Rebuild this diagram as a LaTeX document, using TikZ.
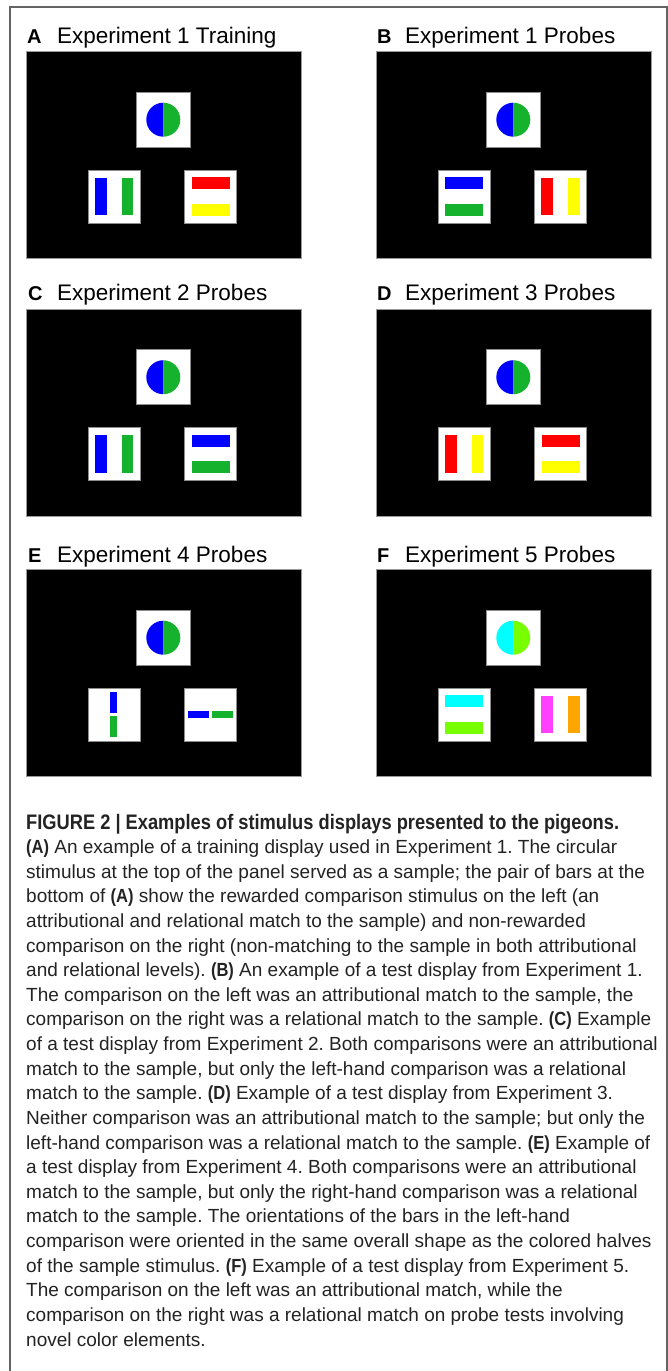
\documentclass[tikz,border=0pt]{standalone}
\usepackage{fontspec}
\setmainfont{Liberation Sans}[BoldFeatures={FakeStretch=0.87}]
\newfontfamily\titlefont{Liberation Sans}
\usetikzlibrary{calc}
\frenchspacing
\definecolor{pblue}{RGB}{0,0,255}
\definecolor{pgreen}{RGB}{20,178,45}
\definecolor{pred}{RGB}{255,0,0}
\definecolor{pyellow}{RGB}{255,255,0}
\definecolor{pcyan}{RGB}{0,255,255}
\definecolor{plime}{RGB}{119,255,0}
\definecolor{pmagenta}{RGB}{255,64,255}
\definecolor{porange}{RGB}{255,165,0}
\definecolor{framegray}{RGB}{100,100,100}
\definecolor{captext}{RGB}{35,35,35}
\newcommand\stimpanel[5]{% name, x, y, left colour, right colour of sample
  \node[panelbox, anchor=north west] (#1-p) at (#2,#3) {};
  \node[wbox, minimum width=54.5pt, minimum height=55pt] (#1-s) at ($(#1-p.north west)+(137.3,68.5)$) {};
  \node[wbox] (#1-l) at ($(#1-p.north west)+(88.3,145.5)$) {};
  \node[wbox] (#1-r) at ($(#1-p.north west)+(184.5,145.5)$) {};
  \coordinate (#1-c) at ($(#1-s)+(0,0.2)$);
  \begin{scope}
    \clip ($(#1-c)+(-18,-18)$) rectangle ($(#1-c)+(0,18)$);
    \fill[#4] (#1-c) circle[radius=17];
  \end{scope}
  \begin{scope}
    \clip ($(#1-c)+(0,-18)$) rectangle ($(#1-c)+(18,18)$);
    \fill[#5] (#1-c) circle[radius=17];
  \end{scope}
}
\begin{document}
\begin{tikzpicture}[x=1pt,y=-1pt,
  panelbox/.style={draw=gray!80, line width=0.6pt, fill=black, minimum width=275pt, minimum height=207pt, inner sep=0pt},
  wbox/.style={draw=gray!90, line width=0.9pt, fill=white, minimum width=52.5pt, minimum height=53pt, inner sep=0pt},
  vbar/.style={minimum width=11.5pt, minimum height=37.7pt, inner sep=0pt},
  hbar/.style={minimum width=38pt, minimum height=12pt, inner sep=0pt},
  svbar/.style={minimum width=7pt, minimum height=21.5pt, inner sep=0pt},
  shbar/.style={minimum width=21pt, minimum height=7pt, inner sep=0pt},
  lett/.style={font=\titlefont\bfseries\fontsize{20}{22}\selectfont, inner sep=0pt, anchor=base west},
  ttl/.style={font=\titlefont\fontsize{22.5}{26}\selectfont, inner sep=0pt, anchor=base west},
  captxt/.style={font=\fontsize{19}{22}\selectfont, text=captext, inner sep=0pt, anchor=base west},
  capbold/.style={font=\bfseries\fontsize{21}{24}\selectfont, text=captext, inner sep=0pt, anchor=base west},
  outerframe/.style={draw=framegray, line width=1.1pt}
]
\fill[white] (0,0) rectangle (668,1371);
\useasboundingbox (0,0) rectangle (668,1371);
\draw[outerframe] (10,1371) -- (10,7) -- (667,7) -- (667,1371);

% titles
\node[lett] (A-t1) at (27,43) {A};
\node[ttl] (A-t2) at (57,43) {Experiment 1 Training};
\node[lett] (B-t1) at (377,43) {B};
\node[ttl] (B-t2) at (405,43) {Experiment 1 Probes};
\node[lett] (C-t1) at (28,300) {C};
\node[ttl] (C-t2) at (57,300) {Experiment 2 Probes};
\node[lett] (D-t1) at (377,300) {D};
\node[ttl] (D-t2) at (405,300) {Experiment 3 Probes};
\node[lett] (E-t1) at (28,562) {E};
\node[ttl] (E-t2) at (57,562) {Experiment 4 Probes};
\node[lett] (F-t1) at (377,562) {F};
\node[ttl] (F-t2) at (405,562) {Experiment 5 Probes};

% panels
\stimpanel{A}{26}{51}{pblue}{pgreen}
\stimpanel{B}{376}{51}{pblue}{pgreen}
\stimpanel{C}{26}{308.5}{pblue}{pgreen}
\stimpanel{D}{376}{308.5}{pblue}{pgreen}
\stimpanel{E}{26}{569}{pblue}{pgreen}
\stimpanel{F}{376}{569}{pcyan}{plime}

% A bars
\node[vbar, fill=pblue] (A-l1) at ($(A-l)+(-13.4,0)$) {};
\node[vbar, fill=pgreen] (A-l2) at ($(A-l)+(13.4,0)$) {};
\node[hbar, fill=pred] (A-r1) at ($(A-r)+(0,-13.3)$) {};
\node[hbar, fill=pyellow] (A-r2) at ($(A-r)+(0,13.3)$) {};
% B bars
\node[hbar, fill=pblue] (B-l1) at ($(B-l)+(0,-13.3)$) {};
\node[hbar, fill=pgreen] (B-l2) at ($(B-l)+(0,13.3)$) {};
\node[vbar, fill=pred] (B-r1) at ($(B-r)+(-13.4,0)$) {};
\node[vbar, fill=pyellow] (B-r2) at ($(B-r)+(13.4,0)$) {};
% C bars
\node[vbar, fill=pblue] (C-l1) at ($(C-l)+(-13.4,0)$) {};
\node[vbar, fill=pgreen] (C-l2) at ($(C-l)+(13.4,0)$) {};
\node[hbar, fill=pblue] (C-r1) at ($(C-r)+(0,-13.3)$) {};
\node[hbar, fill=pgreen] (C-r2) at ($(C-r)+(0,13.3)$) {};
% D bars
\node[vbar, fill=pred] (D-l1) at ($(D-l)+(-13.4,0)$) {};
\node[vbar, fill=pyellow] (D-l2) at ($(D-l)+(13.4,0)$) {};
\node[hbar, fill=pred] (D-r1) at ($(D-r)+(0,-13.3)$) {};
\node[hbar, fill=pyellow] (D-r2) at ($(D-r)+(0,13.3)$) {};
% E bars
\node[svbar, fill=pblue] (E-l1) at ($(E-l)+(-0.8,-12.2)$) {};
\node[svbar, fill=pgreen] (E-l2) at ($(E-l)+(-0.8,12.2)$) {};
\node[shbar, fill=pblue] (E-r1) at ($(E-r)+(-12.2,-0.3)$) {};
\node[shbar, fill=pgreen] (E-r2) at ($(E-r)+(12.2,-0.3)$) {};
% F bars
\node[hbar, fill=pcyan] (F-l1) at ($(F-l)+(0,-13.3)$) {};
\node[hbar, fill=plime] (F-l2) at ($(F-l)+(0,13.3)$) {};
\node[vbar, fill=pmagenta] (F-r1) at ($(F-r)+(-13.4,0)$) {};
\node[vbar, fill=porange] (F-r2) at ($(F-r)+(13.4,0)$) {};

% caption
\node[capbold] (cap1) at (26,829) {FIGURE 2 | Examples of stimulus displays presented to the pigeons.};
\node[captxt] (cap2) at (26,853.62) {\textbf{(A)} An example of a training display used in Experiment 1. The circular};
\node[captxt] (cap3) at (26,878.24) {stimulus at the top of the panel served as a sample; the pair of bars at the};
\node[captxt] (cap4) at (26,902.86) {bottom of \textbf{(A)} show the rewarded comparison stimulus on the left (an};
\node[captxt] (cap5) at (26,927.48) {attributional and relational match to the sample) and non-rewarded};
\node[captxt] (cap6) at (26,952.1) {comparison on the right (non-matching to the sample in both attributional};
\node[captxt] (cap7) at (26,976.72) {and relational levels). \textbf{(B)} An example of a test display from Experiment 1.};
\node[captxt] (cap8) at (26,1001.34) {The comparison on the left was an attributional match to the sample, the};
\node[captxt] (cap9) at (26,1025.96) {comparison on the right was a relational match to the sample. \textbf{(C)} Example};
\node[captxt] (cap10) at (26,1050.58) {of a test display from Experiment 2. Both comparisons were an attributional};
\node[captxt] (cap11) at (26,1075.2) {match to the sample, but only the left-hand comparison was a relational};
\node[captxt] (cap12) at (26,1099.82) {match to the sample. \textbf{(D)} Example of a test display from Experiment 3.};
\node[captxt] (cap13) at (26,1124.44) {Neither comparison was an attributional match to the sample; but only the};
\node[captxt] (cap14) at (26,1149.06) {left-hand comparison was a relational match to the sample. \textbf{(E)} Example of};
\node[captxt] (cap15) at (26,1173.68) {a test display from Experiment 4. Both comparisons were an attributional};
\node[captxt] (cap16) at (26,1198.3) {match to the sample, but only the right-hand comparison was a relational};
\node[captxt] (cap17) at (26,1222.92) {match to the sample. The orientations of the bars in the left-hand};
\node[captxt] (cap18) at (26,1247.54) {comparison were oriented in the same overall shape as the colored halves};
\node[captxt] (cap19) at (26,1272.16) {of the sample stimulus. \textbf{(F)} Example of a test display from Experiment 5.};
\node[captxt] (cap20) at (26,1296.78) {The comparison on the left was an attributional match, while the};
\node[captxt] (cap21) at (26,1321.4) {comparison on the right was a relational match on probe tests involving};
\node[captxt] (cap22) at (26,1346.02) {novel color elements.};
\end{tikzpicture}
\end{document}
